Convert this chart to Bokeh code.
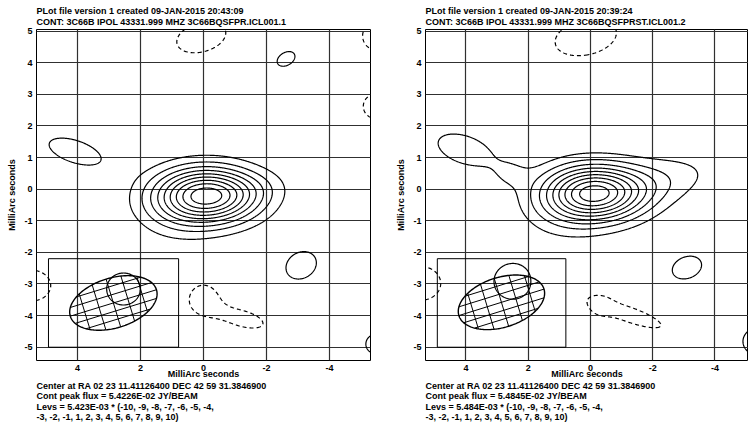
import numpy as np
import contourpy
from bokeh.plotting import figure
from bokeh.layouts import row
from bokeh.models import Title, Range1d
from bokeh.embed import file_html
from bokeh.resources import INLINE

# ------------------------------------------------------------------ data
X_TICKS = [4, 2, 0, -2, -4]
Y_TICKS = [5, 4, 3, 2, 1, 0, -1, -2, -3, -4, -5]
LEVEL_MULT = [-10, -9, -8, -7, -6, -5, -4, -3, -2, -1, 1, 2, 3, 4, 5, 6, 7, 8, 9, 10]

LEFT_LEV = 5.423e-3
RIGHT_LEV = 5.484e-3

# brightness components: position (mas), amplitude in units
# of the lowest contour, gaussian widths (mas) and tilt on the page (deg)
LEFT_X    = [-0.12,  0.90, -1.60, 4.08,  0.07, -2.62, -5.50, -5.45, -3.10,  0.00, -1.25,  5.45, -5.45, 2.54]
LEFT_Y    = [-0.20, -0.75,  0.00, 1.19,  4.80,  4.12,  4.85,  2.62, -2.41, -3.45, -4.10, -3.05, -4.90, -3.16]
LEFT_AMP  = [ 9.30,  1.00,  0.60, 1.60, -1.60,  1.30, -1.50, -1.50,  1.60, -1.50, -1.40, -1.60,  1.50, 1.60]
LEFT_SMAJ = [ 1.10,  0.95,  0.80, 0.88,  0.82,  0.42,  0.50,  0.42,  0.52,  0.45,  0.80,  0.62,  0.33, 0.55]
LEFT_SMIN = [ 0.60,  0.70,  0.40, 0.36,  0.47,  0.28,  0.50,  0.42,  0.42,  0.45,  0.30,  0.50,  0.33, 0.52]
LEFT_PA   = [ 0,     0,     8,  -18,    15,    30,     0,     0,    30,     0,   -15,     0,     0,    0]

RIGHT_X    = [-0.10,  0.90, -2.00, 4.05, 2.60,  0.15, 2.50,  5.45, -3.10, -1.25, -0.30, -5.45]
RIGHT_Y    = [-0.12, -0.70,  0.20, 1.25, 0.50,  4.80, -2.92, -2.98, -2.48, -3.97, -3.70, -4.82]
RIGHT_AMP  = [ 8.70,  1.00,  1.60, 1.70, 0.80, -1.60, 1.60, -1.60,  1.60, -1.50, -0.80,  1.60]
RIGHT_SMAJ = [ 1.08,  0.95,  1.45, 0.85, 0.45,  1.03, 0.62,  0.66,  0.50,  1.19,  0.30,  0.57]
RIGHT_SMIN = [ 0.60,  0.70,  0.55, 0.42, 0.35,  0.57, 0.58,  0.55,  0.35,  0.26,  0.30,  0.47]
RIGHT_PA   = [ 0,     0,    12,  -18,    0,    12,    0,     0,    20,   -19,     0,     0]

# restoring beam (centre, semi-axes, tilt) and its box
LEFT_BEAM = [2.86, -3.60, 1.43, 0.79, 17]
RIGHT_BEAM = [2.86, -3.58, 1.43, 0.79, 17]
BEAM_BOX = [4.92, 0.79, -5.00, -2.20]   # left, right, bottom, top

LEFT_TITLE = ["PLot file version 1  created 09-JAN-2015 20:43:09",
              "CONT: 3C66B  IPOL  43331.999 MHZ  3C66BQSFPR.ICL001.1"]
RIGHT_TITLE = ["PLot file version 1  created 09-JAN-2015 20:39:24",
               "CONT: 3C66B  IPOL  43331.999 MHZ  3C66BQSFPRST.ICL001.2"]
LEFT_FOOT = ["Center at RA 02 23 11.41126400  DEC 42 59 31.3846900",
             "Cont peak flux =  5.4226E-02 JY/BEAM",
             "Levs = 5.423E-03 * (-10, -9, -8, -7, -6, -5, -4,",
             "-3, -2, -1, 1, 2, 3, 4, 5, 6, 7, 8, 9, 10)"]
RIGHT_FOOT = ["Center at RA 02 23 11.41126400  DEC 42 59 31.3846900",
              "Cont peak flux =  5.4845E-02 JY/BEAM",
              "Levs = 5.484E-03 * (-10, -9, -8, -7, -6, -5, -4,",
              "-3, -2, -1, 1, 2, 3, 4, 5, 6, 7, 8, 9, 10)"]

AXIS_LABEL = "MilliArc seconds"

# ------------------------------------------------------------------ style
FONT = "Liberation Sans"
FS = "9px"
Y_START, Y_END = -5.42, 5.05
X_START = 5.3

GX = np.linspace(-7, 7, 701)
GY = np.linspace(-7, 7, 701)
XX, YY = np.meshgrid(GX, GY)


def model(xs, ys, amps, smaj, smin, pa, lev):
    z = np.zeros_like(XX)
    for x0, y0, a, s1, s2, th in zip(xs, ys, amps, smaj, smin, pa):
        t = np.deg2rad(th)
        du = -(XX - x0)
        dv = YY - y0
        d1 = du * np.cos(t) + dv * np.sin(t)
        d2 = -du * np.sin(t) + dv * np.cos(t)
        z += a * np.exp(-0.5 * ((d1 / s1) ** 2 + (d2 / s2) ** 2))
    return z * lev


def contour_lines(z, lev, mults):
    gen = contourpy.contour_generator(GX, GY, z, line_type="Separate")
    xs, ys = [], []
    for m in mults:
        for seg in gen.lines(m * lev):
            xs.append(seg[:, 0].tolist())
            ys.append(seg[:, 1].tolist())
    return xs, ys


def beam_geometry(beam):
    xc, yc, a, b, pa = beam
    t = np.deg2rad(pa)
    uc = -xc

    def to_xy(p, q):
        u = uc + p * np.cos(t) - q * np.sin(t)
        v = yc + p * np.sin(t) + q * np.cos(t)
        return -u, v

    ph = np.linspace(0, 2 * np.pi, 181)
    ex, ey = to_xy(a * np.cos(ph), b * np.sin(ph))
    x0, y0, x1, y1 = [], [], [], []
    for k in (-2, -1, 0, 1, 2):
        c = k * b / 3.0
        h = a * np.sqrt(1 - (c / b) ** 2)
        xa, ya = to_xy(-h, c)
        xb, yb = to_xy(h, c)
        x0.append(xa); y0.append(ya); x1.append(xb); y1.append(yb)
        c = k * a / 3.0
        h = b * np.sqrt(1 - (c / a) ** 2)
        xa, ya = to_xy(c, -h)
        xb, yb = to_xy(c, h)
        x0.append(xa); y0.append(ya); x1.append(xb); y1.append(yb)
    return ex, ey, x0, y0, x1, y1


def text_title(lines, standoff):
    return Title(text="\n".join(lines), align="left", text_font=FONT,
                 text_font_size=FS, text_font_style="bold", text_color="black",
                 text_line_height=1.05, standoff=standoff, offset=0)


def make_panel(width, min_left, min_right, x_end, comps, lev, beam, title, foot):
    p = figure(width=width, height=423, title=None,
               x_range=Range1d(X_START, x_end), y_range=Range1d(Y_START, Y_END),
               output_backend="svg", toolbar_location=None,
               min_border_left=min_left, min_border_right=min_right,
               min_border_top=29, min_border_bottom=63,
               background_fill_color="white", border_fill_color="white")
    p.outline_line_color = "black"
    p.outline_line_width = 1
    p.outline_line_alpha = 1

    p.xaxis.ticker = X_TICKS
    p.yaxis.ticker = Y_TICKS
    p.xaxis.major_label_overrides = {t: str(t) for t in X_TICKS}
    p.yaxis.major_label_overrides = {t: str(t) for t in Y_TICKS}
    for ax in (p.xaxis[0], p.yaxis[0]):
        ax.axis_line_color = None
        ax.major_tick_in = 0
        ax.major_tick_out = 0
        ax.minor_tick_in = 0
        ax.minor_tick_out = 0
        ax.major_label_text_font = FONT
        ax.major_label_text_font_size = FS
        ax.major_label_text_font_style = "bold"
        ax.major_label_text_color = "black"
        ax.axis_label = AXIS_LABEL
        ax.axis_label_text_font = FONT
        ax.axis_label_text_font_size = FS
        ax.axis_label_text_font_style = "bold"
        ax.axis_label_text_color = "black"
    p.xaxis.major_label_standoff = 4
    p.xaxis.axis_label_standoff = -5
    p.yaxis.major_label_standoff = 4
    p.yaxis.axis_label_standoff = 4

    p.grid.grid_line_color = "#303030"
    p.grid.grid_line_width = 1.2

    z = model(*comps, lev)
    nx, ny = contour_lines(z, lev, [m for m in LEVEL_MULT if m < 0])
    px, py = contour_lines(z, lev, [m for m in LEVEL_MULT if m > 0])
    p.multi_line(nx, ny, line_color="black", line_width=1.2, line_dash="4 3")
    p.multi_line(px, py, line_color="black", line_width=1.2)

    bl, br, bb, bt = BEAM_BOX
    p.quad(left=bl, right=br, bottom=bb, top=bt, fill_color=None,
           line_color="black", line_width=1)
    ex, ey, hx0, hy0, hx1, hy1 = beam_geometry(beam)
    p.segment(hx0, hy0, hx1, hy1, line_color="black", line_width=1)
    p.line(ex, ey, line_color="black", line_width=1.4)

    p.add_layout(text_title(title, 6), "above")
    p.add_layout(text_title(foot, -7), "below")
    return p


left = make_panel(393, 36, 23, -5.3,
                  (LEFT_X, LEFT_Y, LEFT_AMP, LEFT_SMAJ, LEFT_SMIN, LEFT_PA),
                  LEFT_LEV, LEFT_BEAM, LEFT_TITLE, LEFT_FOOT)
right = make_panel(355, 28, 0, X_START - 327 / 31.51,
                   (RIGHT_X, RIGHT_Y, RIGHT_AMP, RIGHT_SMAJ, RIGHT_SMIN, RIGHT_PA),
                   RIGHT_LEV, RIGHT_BEAM, RIGHT_TITLE, RIGHT_FOOT)

layout = row(left, right)
open("out.html", "w").write(file_html(layout, INLINE))
